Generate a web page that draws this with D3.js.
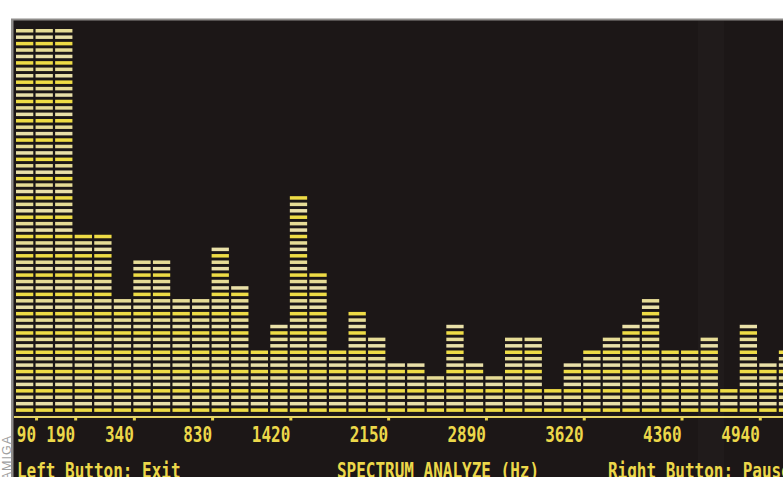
<!DOCTYPE html>
<html>
<head>
<meta charset="utf-8">
<script src="https://cdn.jsdelivr.net/npm/d3@7"></script>
<style>
  html, body { margin: 0; padding: 0; background: #fff; }
  svg { display: block; }
  .lbl { font-family: "DejaVu Sans Mono", monospace; font-weight: bold; font-size: 16px; fill: #ecd84a; }
</style>
</head>
<body>
<svg id="chart" width="783" height="477"></svg>
<script>
// lit segments per band (screen tops out at 60), left to right
var levels = [60, 60, 60, 28, 28, 18, 24, 24, 18, 18, 26, 20, 10, 14, 34, 22, 10, 16, 12, 8,
              8, 6, 14, 8, 6, 12, 12, 4, 8, 10, 12, 14, 18, 10, 10, 12, 4, 14, 8, 10];
var maxSegments = 60;
// frequency labels sit under the left edge of these bands
var tickBands = [1, 3, 6, 10, 14, 19, 24, 29, 34, 38];
var tickLabels = ["90", "190", "340", "830", "1420", "2150", "2890", "3620", "4360", "4940"];
var statusText = ["Left Button: Exit", "SPECTRUM ANALYZE (Hz)", "Right Button: Pause"];

var svg = d3.select("#chart");
var W = 783, H = 477;
var stretch = 1.28; // topaz-ish tall glyphs

// screen frame
svg.append("rect").attr("x", 11).attr("y", 18.5).attr("width", W).attr("height", H).attr("fill", "#8e8c8a");
svg.append("rect").attr("x", 13.5).attr("y", 20.5).attr("width", W).attr("height", H).attr("fill", "#1c1717");
svg.append("rect").attr("x", 698).attr("y", 20.5).attr("width", 26).attr("height", H).attr("fill", "#fff").attr("opacity", 0.018);

// photo credit
svg.append("text")
  .attr("transform", "translate(10.5,435) rotate(-90)")
  .attr("text-anchor", "end")
  .style("font-family", "'Liberation Sans', sans-serif")
  .style("font-size", "12.5px")
  .style("letter-spacing", "1px")
  .attr("fill", "#a0a0a0")
  .text("©AMIGA");

var x = d3.scaleLinear().domain([0, levels.length]).range([16, 16 + levels.length * 19.56]);
var y = d3.scaleLinear().domain([0, maxSegments]).range([411.9, 411.9 - maxSegments * 6.43]);
var segW = 17.3, segH = 3.5;
var segColors = ["#eedc46", "#e9e0a8", "#e6dc96"];

var bands = svg.append("g").selectAll("g")
  .data(levels)
  .join("g")
  .attr("transform", function(d, i) { return "translate(" + x(i) + ",0)"; });

bands.selectAll("rect")
  .data(function(d) { return d3.range(d); })
  .join("rect")
  .attr("x", 0)
  .attr("y", function(k) { return y(k + 1) + 2.9; })
  .attr("width", segW)
  .attr("height", segH)
  .attr("fill", function(k) { return segColors[k % 3]; });

// baseline + ticks
var axis = d3.axisBottom(x)
  .tickValues(tickBands)
  .tickFormat(function(d, i) { return tickLabels[i]; })
  .tickSize(4)
  .tickSizeOuter(0);

var gAxis = svg.append("g").attr("transform", "translate(0,416.5)").call(axis);
gAxis.select(".domain").remove();
gAxis.append("line").attr("x1", 14).attr("x2", W).attr("y1", 0.5).attr("y2", 0.5)
  .attr("stroke", "#e6d56a").attr("stroke-width", 2);
gAxis.selectAll(".tick line").attr("stroke", "#e6d24a").attr("stroke-width", 3).attr("x1", 0.5).attr("x2", 0.5);
gAxis.selectAll(".tick text")
  .attr("class", "lbl")
  .attr("text-anchor", "end")
  .attr("x", 0)
  .attr("dy", null)
  .attr("y", 25.5 / stretch)
  .attr("transform", "scale(1," + stretch + ")");

// status line along the bottom (runs off the photo's lower edge)
var statusX = [17, 337, 608];
svg.append("g").selectAll("text")
  .data(statusText)
  .join("text")
  .attr("class", "lbl")
  .attr("x", function(d, i) { return statusX[i]; })
  .attr("y", 478 / stretch)
  .attr("transform", "scale(1," + stretch + ")")
  .text(function(d) { return d; });
</script>
</body>
</html>
